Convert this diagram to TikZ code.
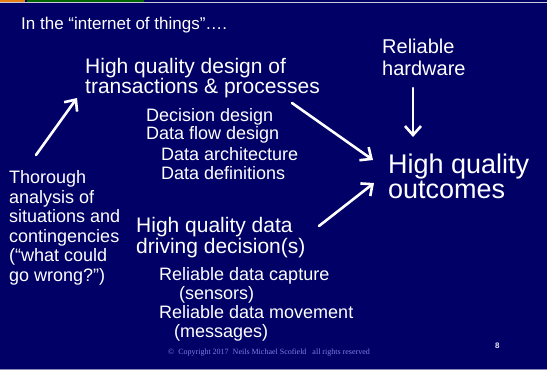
\documentclass[tikz,border=0pt]{standalone}
\usepackage{fontspec}
\setmainfont{Liberation Sans}
\newfontfamily\copyfont{Liberation Serif}
\usetikzlibrary{arrows.meta}

\definecolor{slidebg}{RGB}{0,0,102}
\definecolor{copyblue}{RGB}{125,125,225}
\definecolor{stripgray}{RGB}{200,200,215}

\begin{document}
\begin{tikzpicture}[x=1pt, y=-1pt,
    txt/.style={text=white, inner sep=0pt, anchor=base west, align=left},
    arr/.style={draw=white, line width=2.6pt, line cap=round,
        -{Straight Barb[length=9pt, width=16pt, line width=2.6pt]}}]
    % slide background
    \fill[slidebg] (0,0) rectangle (547,370);
    \useasboundingbox (0,0) rectangle (547,370);
    \fill[orange!60!brown] (0,0) rectangle (25,1.5);
    \fill[green!40!black] (27,0) rectangle (144,1.5);
    \fill[stripgray] (0,1.5) rectangle (547,2.5);
    \fill[stripgray!70!slidebg] (0,368.5) rectangle (547,370);

    % texts (placed at the baseline of their last line)
    \node[txt, font=\fontsize{17}{19}\selectfont] (title) at (21,29) {In the “internet of things”….};
    \node[txt, font=\fontsize{20}{22}\selectfont] (hardware) at (382,75) {Reliable\\hardware};
    \node[txt, font=\fontsize{21}{20}\selectfont] (design) at (85,93) {High quality design of\\transactions \& processes};
    \node[txt, font=\fontsize{18}{18}\selectfont] (decision) at (146,139) {Decision design\\Data flow design};
    \node[txt, font=\fontsize{18}{19}\selectfont] (arch) at (161,179) {Data architecture\\Data definitions};
    \node[txt, font=\fontsize{27}{25}\selectfont] (outcomes) at (388,198) {High quality\\outcomes};
    \node[txt, font=\fontsize{18}{19.5}\selectfont] (thorough) at (9,281) {Thorough\\analysis of\\situations and\\contingencies\\(“what could\\go wrong?”)};
    \node[txt, font=\fontsize{21}{21}\selectfont] (data) at (136,253) {High quality data\\driving decision(s)};
    \node[txt, font=\fontsize{18}{19}\selectfont] (capture) at (159,299) {Reliable data capture\\\hspace*{20pt}(sensors)};
    \node[txt, font=\fontsize{18}{19}\selectfont] (movement) at (159,337) {Reliable data movement\\\hspace*{15pt}(messages)};
    \node[txt, text=copyblue, font=\copyfont\fontsize{8}{9}\selectfont] (copy) at (168,354) {©\ \ Copyright 2017\ \ Neils Michael Scofield\ \ \ all rights reserved};
    \node[txt, font=\fontsize{8}{8}\selectfont\bfseries, text=white!90!slidebg] (page) at (495,348) {8};

    % arrow ends
    \coordinate (thorough-out) at (36,155);
    \coordinate (design-in) at (77,98);
    \coordinate (design-out) at (292,103);
    \coordinate (outcomes-top) at (373,160);
    \coordinate (hardware-out) at (413,88);
    \coordinate (outcomes-up) at (413,137);
    \coordinate (data-out) at (319,226);
    \coordinate (outcomes-low) at (374,183);

    \draw[arr] (thorough-out) -- (design-in);
    \draw[arr] (design-out) -- (outcomes-top);
    \draw[arr] (hardware-out) -- (outcomes-up);
    \draw[arr] (data-out) -- (outcomes-low);
\end{tikzpicture}
\end{document}
